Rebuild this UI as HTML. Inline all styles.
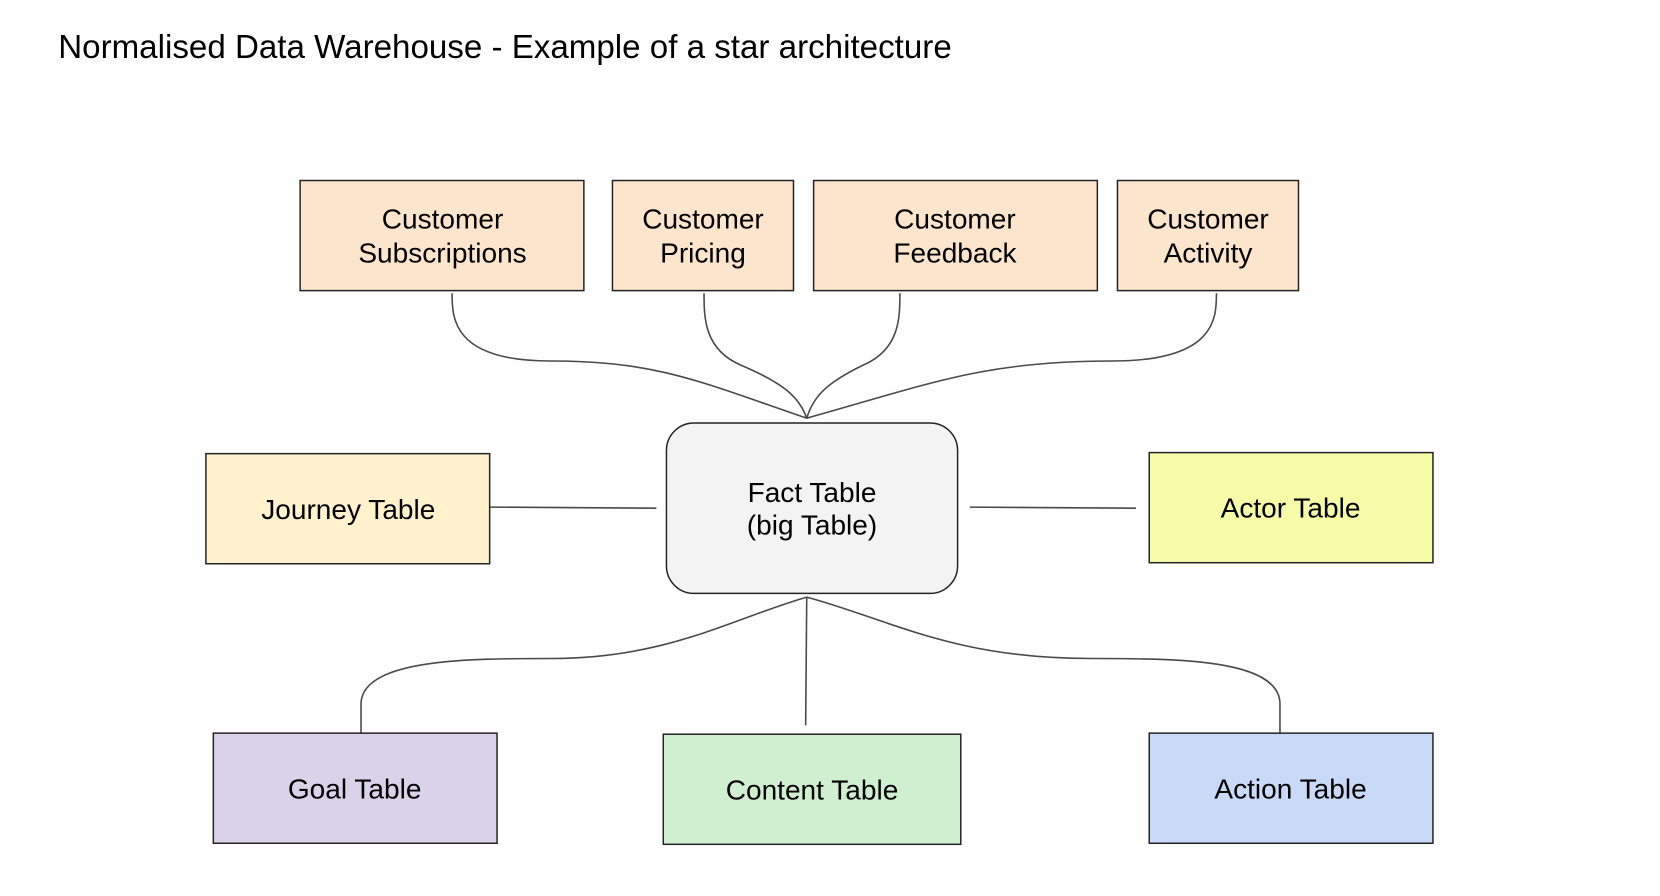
<!DOCTYPE html>
<html><head><meta charset="utf-8"><style>
html,body{margin:0;padding:0;background:#fff;}
svg{display:block;font-family:"Liberation Sans",Arial,sans-serif;}
</style></head><body>
<svg width="1660" height="896" viewBox="0 0 1660 896" xmlns="http://www.w3.org/2000/svg">
<g transform="scale(1.0587)">
<text x="55" y="55" font-size="31.3" fill="#000">Normalised Data Warehouse - Example of a star architecture</text>
<g fill="none" stroke="#4a4a4a" stroke-width="1.5">
<path d="M427 277 C427 300 427 341 520 341 C620 341 660 360 762 395"/>
<path d="M665 277 C665 300 665 330 700 345 C740 362 755 375 762 395"/>
<path d="M850 277 C850 300 850 330 815 345 C780 362 768 375 762 395"/>
<path d="M1149 277 C1149 300 1149 341 1050 341 C930 341 880 362 762 395"/>
<path d="M463 479 L620 480"/>
<path d="M916 479 L1073 480"/>
<path d="M762 564 C690 585 630 622 520 622 C445 622 341 622 341 665 L341 692"/>
<path d="M762 564 L761 685"/>
<path d="M762 564 C840 585 900 622 1030 622 C1110 622 1209 622 1209 665 L1209 692"/>
</g>
<g stroke="#222" stroke-width="1.4">
<rect x="283.5" y="170.5" width="268" height="104" fill="#fce5cd"/>
<rect x="578.5" y="170.5" width="171" height="104" fill="#fce5cd"/>
<rect x="768.5" y="170.5" width="268" height="104" fill="#fce5cd"/>
<rect x="1055.5" y="170.5" width="171" height="104" fill="#fce5cd"/>
<rect x="194.5" y="428.5" width="268" height="104" fill="#fff2cc"/>
<rect x="629.5" y="399.5" width="275" height="161" rx="26" fill="#f3f3f3"/>
<rect x="1085.5" y="427.5" width="268" height="104" fill="#f6fba7"/>
<rect x="201.5" y="692.5" width="268" height="104" fill="#d9d2e9"/>
<rect x="626.5" y="693.5" width="281" height="104" fill="#d0efd0"/>
<rect x="1085.5" y="692.5" width="268" height="104" fill="#c9daf8"/>
</g>
<g font-size="26.5" text-anchor="middle" fill="#000">
<text x="418" y="216">Customer</text><text x="418" y="248">Subscriptions</text>
<text x="664" y="216">Customer</text><text x="664" y="248">Pricing</text>
<text x="902" y="216">Customer</text><text x="902" y="248">Feedback</text>
<text x="1141" y="216">Customer</text><text x="1141" y="248">Activity</text>
<text x="329" y="490">Journey Table</text>
<text x="767" y="474">Fact Table</text><text x="767" y="505">(big Table)</text>
<text x="1219" y="489">Actor Table</text>
<text x="335" y="754">Goal Table</text>
<text x="767" y="755">Content Table</text>
<text x="1219" y="754">Action Table</text>
</g>
</g>
</svg>
</body></html>
